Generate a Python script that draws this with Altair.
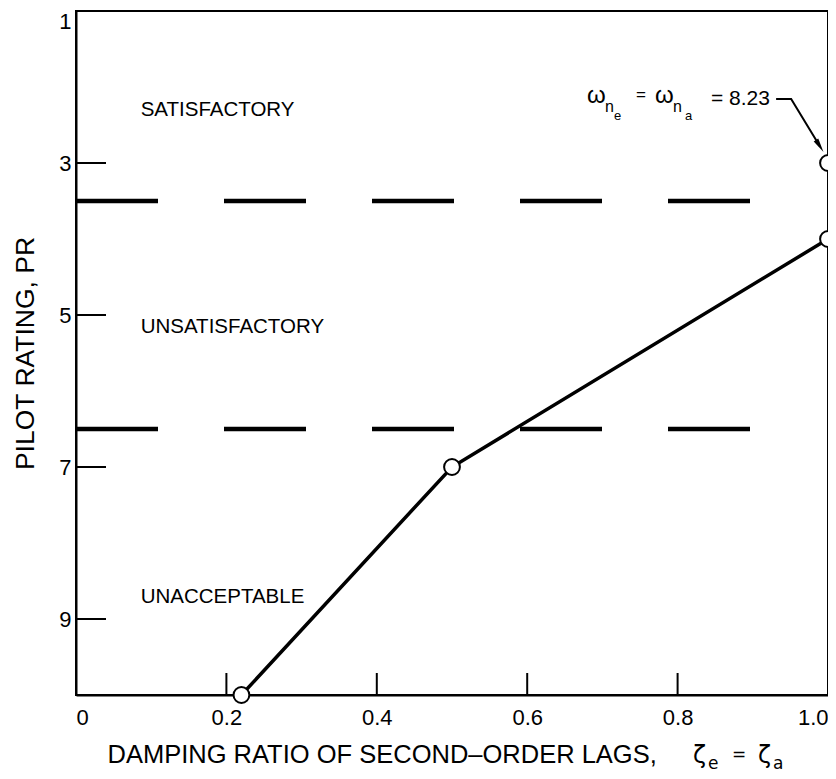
import altair as alt
import pandas as pd

# ---- data ----
zeta = [0.22, 0.5, 1.0]
pilot_rating = [10, 7, 4]
extra_zeta = [1.0]
extra_rating = [3]
boundary_rating = [3.5, 6.5]
region_names = ["SATISFACTORY", "UNSATISFACTORY", "UNACCEPTABLE"]
region_rating = [2.3, 5.16, 8.71]
region_zeta = [0.086, 0.086, 0.086]
x_tick_values = [0, 0.2, 0.4, 0.6, 0.8, 1.0]
x_inner_ticks = [0.2, 0.4, 0.6, 0.8]
y_tick_values = [1, 3, 5, 7, 9]
y_inner_ticks = [3, 5, 7, 9]

# annotation pieces: omega_n_e = omega_n_a = 8.23
anno_text = ["ω", "n", "e", "=", "ω", "n", "a", "= 8.23"]
anno_zeta = [0.6795, 0.7035, 0.7154, 0.7447, 0.7700, 0.7939, 0.8100, 0.8444]
anno_rating = [2.21, 2.33, 2.43, 2.17, 2.21, 2.33, 2.43, 2.237]
anno_size = [24, 16, 13, 17, 24, 16, 13, 21]
leader_zeta = [0.931, 0.951, 0.989]
leader_rating = [2.158, 2.158, 2.776]

# x-axis title symbol part: zeta_e = zeta_a
sym_text = ["ζ", "e", "=", "ζ", "a"]
sym_zeta = [0.8205, 0.8404, 0.8723, 0.9069, 0.9269]
sym_rating = [10.90, 10.98, 10.85, 10.90, 10.98]
sym_size = [24, 17, 17, 24, 17]

FONT = "Liberation Sans"
W, H = 752, 684

x_scale = alt.Scale(domain=[0, 1], nice=False, zero=False)
y_scale = alt.Scale(domain=[1, 10], reverse=True, nice=False, zero=False)

x_axis = alt.Axis(
    values=x_tick_values,
    labelExpr="datum.value == 0 ? '0' : format(datum.value, '.1f')",
    ticks=False, tickSize=0, grid=False,
    labelPadding=12, labelFontSize=22, labelFont=FONT, labelColor="black",
    labelFlush=True,
    domainColor="black", domainWidth=2,
    title="DAMPING RATIO OF SECOND–ORDER LAGS,",
    titleFont=FONT, titleFontSize=25.5, titleFontWeight="normal", titleColor="black",
    titleX=31, titleY=67, titleAlign="left", titleBaseline="alphabetic",
)
y_axis = alt.Axis(
    values=y_tick_values,
    ticks=False, tickSize=0, grid=False,
    labelPadding=5, labelFontSize=22, labelFont=FONT, labelColor="black",
    labelFlush=True,
    domainColor="black", domainWidth=2,
    title="PILOT RATING, PR",
    titleFont=FONT, titleFontSize=26.5, titleFontWeight="normal", titleColor="black",
    titleX=-51, titleY=H / 2, titleAngle=-90, titleAlign="center", titleBaseline="middle",
)


def X(field):
    return alt.X(field, type="quantitative", scale=x_scale, axis=x_axis)


def Y(field):
    return alt.Y(field, type="quantitative", scale=y_scale, axis=y_axis)


line_df = pd.DataFrame({"zeta": zeta, "pr": pilot_rating})
pts_df = pd.DataFrame({"zeta": zeta + extra_zeta, "pr": pilot_rating + extra_rating})
bound_df = pd.DataFrame({"pr": boundary_rating, "x0": [0.0] * 2, "x1": [0.9] * 2})
region_df = pd.DataFrame({"name": region_names, "zeta": region_zeta, "pr": region_rating})
xt_df = pd.DataFrame({"v": x_inner_ticks})
yt_df = pd.DataFrame({"v": y_inner_ticks})
anno_df = pd.DataFrame({"t": anno_text, "zeta": anno_zeta, "pr": anno_rating, "s": anno_size})
sym_df = pd.DataFrame({"t": sym_text, "zeta": sym_zeta, "pr": sym_rating, "s": sym_size})
leader_df = pd.DataFrame({"zeta": leader_zeta, "pr": leader_rating, "o": [0, 1, 2]})
arrow_df = pd.DataFrame({"zeta": [leader_zeta[-1]], "pr": [leader_rating[-1]]})

line = alt.Chart(line_df).mark_line(color="black", strokeWidth=3.5).encode(x=X("zeta"), y=Y("pr"))

points = alt.Chart(pts_df).mark_point(
    shape="circle", filled=True, fill="white", stroke="black", strokeWidth=2, size=250, opacity=1
).encode(x=X("zeta"), y=Y("pr"))

bounds = alt.Chart(bound_df).mark_rule(color="black", strokeWidth=4.5, strokeDash=[82, 66]).encode(
    x=X("x0"), x2="x1", y=Y("pr")
)

regions = alt.Chart(region_df).mark_text(
    align="left", baseline="middle", font=FONT, fontSize=20.5, color="black"
).encode(x=X("zeta"), y=Y("pr"), text="name")

xticks = alt.Chart(xt_df).mark_rule(color="black", strokeWidth=2).encode(
    x=X("v"), y=alt.value(H), y2=alt.value(H - 22)
)
yticks = alt.Chart(yt_df).mark_rule(color="black", strokeWidth=2).encode(
    y=Y("v"), x=alt.value(0), x2=alt.value(30)
)

anno = alt.Chart(anno_df).mark_text(
    align="left", baseline="alphabetic", font=FONT, color="black"
).encode(x=X("zeta"), y=Y("pr"), text="t", size=alt.Size("s:Q", scale=None, legend=None))

sym = alt.Chart(sym_df).mark_text(
    align="left", baseline="alphabetic", font="DejaVu Sans", color="black"
).encode(x=X("zeta"), y=Y("pr"), text="t", size=alt.Size("s:Q", scale=None, legend=None))

leader = alt.Chart(leader_df).mark_line(color="black", strokeWidth=2).encode(
    x=X("zeta"), y=Y("pr"), order="o"
)
arrow = alt.Chart(arrow_df).mark_point(
    shape="M0,-1L0.38,1L-0.38,1Z", filled=True, color="black", size=200, angle=148, opacity=1
).encode(x=X("zeta"), y=Y("pr"))

chart = alt.layer(
    bounds, xticks, yticks, line, points, regions, anno, sym, leader, arrow
).properties(
    width=W, height=H,
    autosize=alt.AutoSizeParams(type="none"),
    padding={"left": 68, "top": 3, "right": 0, "bottom": 83},
    background="white",
).configure_view(stroke="black", strokeWidth=2)

chart.save("out.html", embed_options={"renderer": "svg", "actions": False})
